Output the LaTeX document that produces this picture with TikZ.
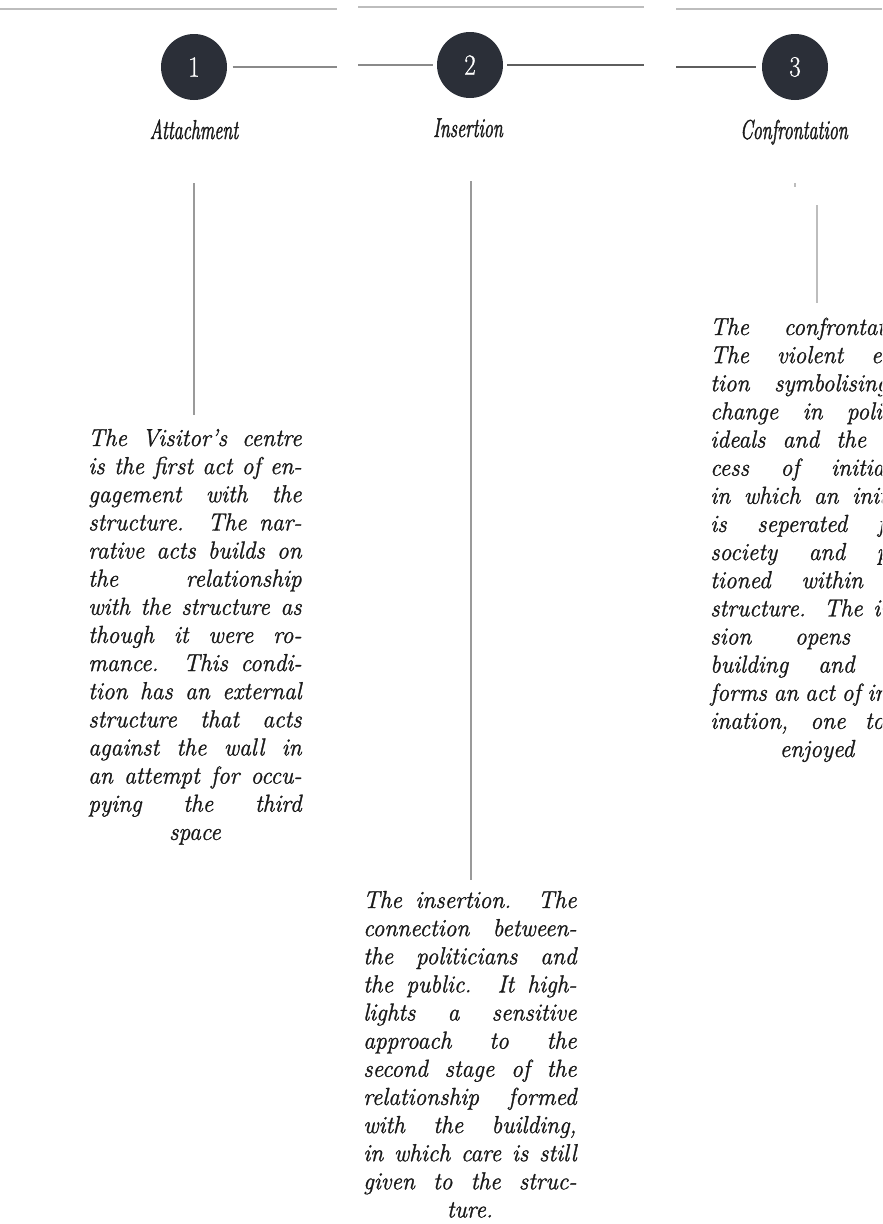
\documentclass[tikz,border=0pt]{standalone}
\usepackage{fontspec}
\usepackage{graphicx}
\newfontfamily\bodyff{Latin Modern Roman}[FakeStretch=0.95,FakeBold=1.1]
\newfontfamily\titleff{Latin Modern Roman}[FakeStretch=0.66,FakeBold=1.4]
\newfontfamily\digitff{Latin Modern Roman}[FakeStretch=0.85,FakeBold=0.8]
\definecolor{discc}{HTML}{2B2F38}
\definecolor{ink}{HTML}{1A1A1A}
\definecolor{rulec}{HTML}{BDBDBD}
\definecolor{linkc}{HTML}{8A8A8A}
\definecolor{linkd}{HTML}{5E5E5E}
\definecolor{stemc}{HTML}{9A9A9A}
\newcommand\jl[1]{\hbox to \linewidth{#1}}
\newcommand\cl[1]{\hbox to \linewidth{\hfil#1\hfil}}
\newcommand\bodyfont{\bodyff\fontsize{18.5pt}{21.1pt}\selectfont\itshape}
\begin{document}
\begin{tikzpicture}[x=0.75pt,y=-0.75pt,
  disc/.style={circle,fill=discc,minimum size=49.5pt,inner sep=0pt,text=white,font=\digitff\fontsize{22pt}{22pt}\selectfont},
  ttl/.style={anchor=base,inner sep=0pt,font=\titleff\fontsize{20.5pt}{22pt}\selectfont\itshape,text=ink},
  body/.style={anchor=base west,inner sep=0pt,text=ink},
  rule/.style={draw=rulec,line width=1.1pt},
  link/.style={draw=linkc,line width=1.4pt},
  linkdark/.style={draw=linkd,line width=1.4pt},
  stem/.style={draw=stemc,line width=0.8pt},
  stemlight/.style={draw=rulec,line width=1.1pt}]
\useasboundingbox (0,0) rectangle (882,1224);
\clip (0,0) rectangle (882,1224);

% top rules
\coordinate (r1a) at (0,9);   \coordinate (r1b) at (337,9);
\coordinate (r2a) at (358,7); \coordinate (r2b) at (644,7);
\coordinate (r3a) at (676,9); \coordinate (r3b) at (882,9);
\draw[rule] (r1a) -- (r1b);
\draw[rule] (r2a) -- (r2b);
\draw[rule] (r3a) -- (r3b);

% discs
\node[disc] (c1) at (194,67) {1};
\node[disc] (c2) at (470,65) {2};
\node[disc] (c3) at (795,67) {3};

% links
\coordinate (l1b) at (337,67);
\coordinate (l2a) at (358,65); \coordinate (l2b) at (644,65);
\coordinate (l3a) at (676,67);
\draw[link] ([xshift=4pt]c1.east) -- (l1b);
\draw[link] (l2a) -- ([xshift=-3pt]c2.west);
\draw[linkdark] ([xshift=3pt]c2.east) -- (l2b);
\draw[linkdark] (l3a) -- ([xshift=-4pt]c3.west);

% titles
\node[ttl] (h1) at (194,139) {Attachment};
\node[ttl] (h2) at (468,137) {Insertion};
\node[ttl] (h3) at (794,139) {Confrontation};

% stems
\coordinate (s1a) at (194,183); \coordinate (s1b) at (194,415);
\coordinate (s2a) at (471,181); \coordinate (s2b) at (471,880);
\coordinate (s3d) at (795,183); \coordinate (s3e) at (795,187);
\coordinate (s3a) at (817,205); \coordinate (s3b) at (817,303);
\draw[stem] (s1a) -- (s1b);
\draw[stem] (s2a) -- (s2b);
\draw[stemlight] (s3d) -- (s3e);
\draw[stemlight] (s3a) -- (s3b);

% texts
\node[body] (t1) at (88,446) {\parbox[t]{160pt}{\bodyfont
\jl{The Visitor’s centre}
\jl{is the first act of en-}
\jl{gagement with the}
\jl{structure. The nar-}
\jl{rative acts builds on}
\jl{the relationship}
\jl{with the structure as}
\jl{though it were ro-}
\jl{mance. This condi-}
\jl{tion has an external}
\jl{structure that acts}
\jl{against the wall in}
\jl{an attempt for occu-}
\jl{pying the third}
\cl{space}}};

\node[body] (t2) at (363,908) {\parbox[t]{160pt}{\bodyfont
\jl{The insertion. The}
\jl{connection between-}
\jl{the politicians and}
\jl{the public. It high-}
\jl{lights a sensitive}
\jl{approach to the}
\jl{second stage of the}
\jl{relationship formed}
\jl{with the building,}
\jl{in which care is still}
\jl{given to the struc-}
\cl{ture.}}};

\node[body] (t3) at (710,335) {\parbox[t]{160pt}{\bodyfont
\jl{The confrontation.}
\jl{The violent erup-}
\jl{tion symbolising a}
\jl{change in political}
\jl{ideals and the pro-}
\jl{cess of initiation}
\jl{in which an initiate}
\jl{is seperated from}
\jl{society and posi-}
\jl{tioned within the}
\jl{structure. The inva-}
\jl{sion opens the}
\jl{building and per-}
\jl{forms an act of imag-}
\jl{ination, one to be}
\cl{enjoyed}}};
\end{tikzpicture}
\end{document}
